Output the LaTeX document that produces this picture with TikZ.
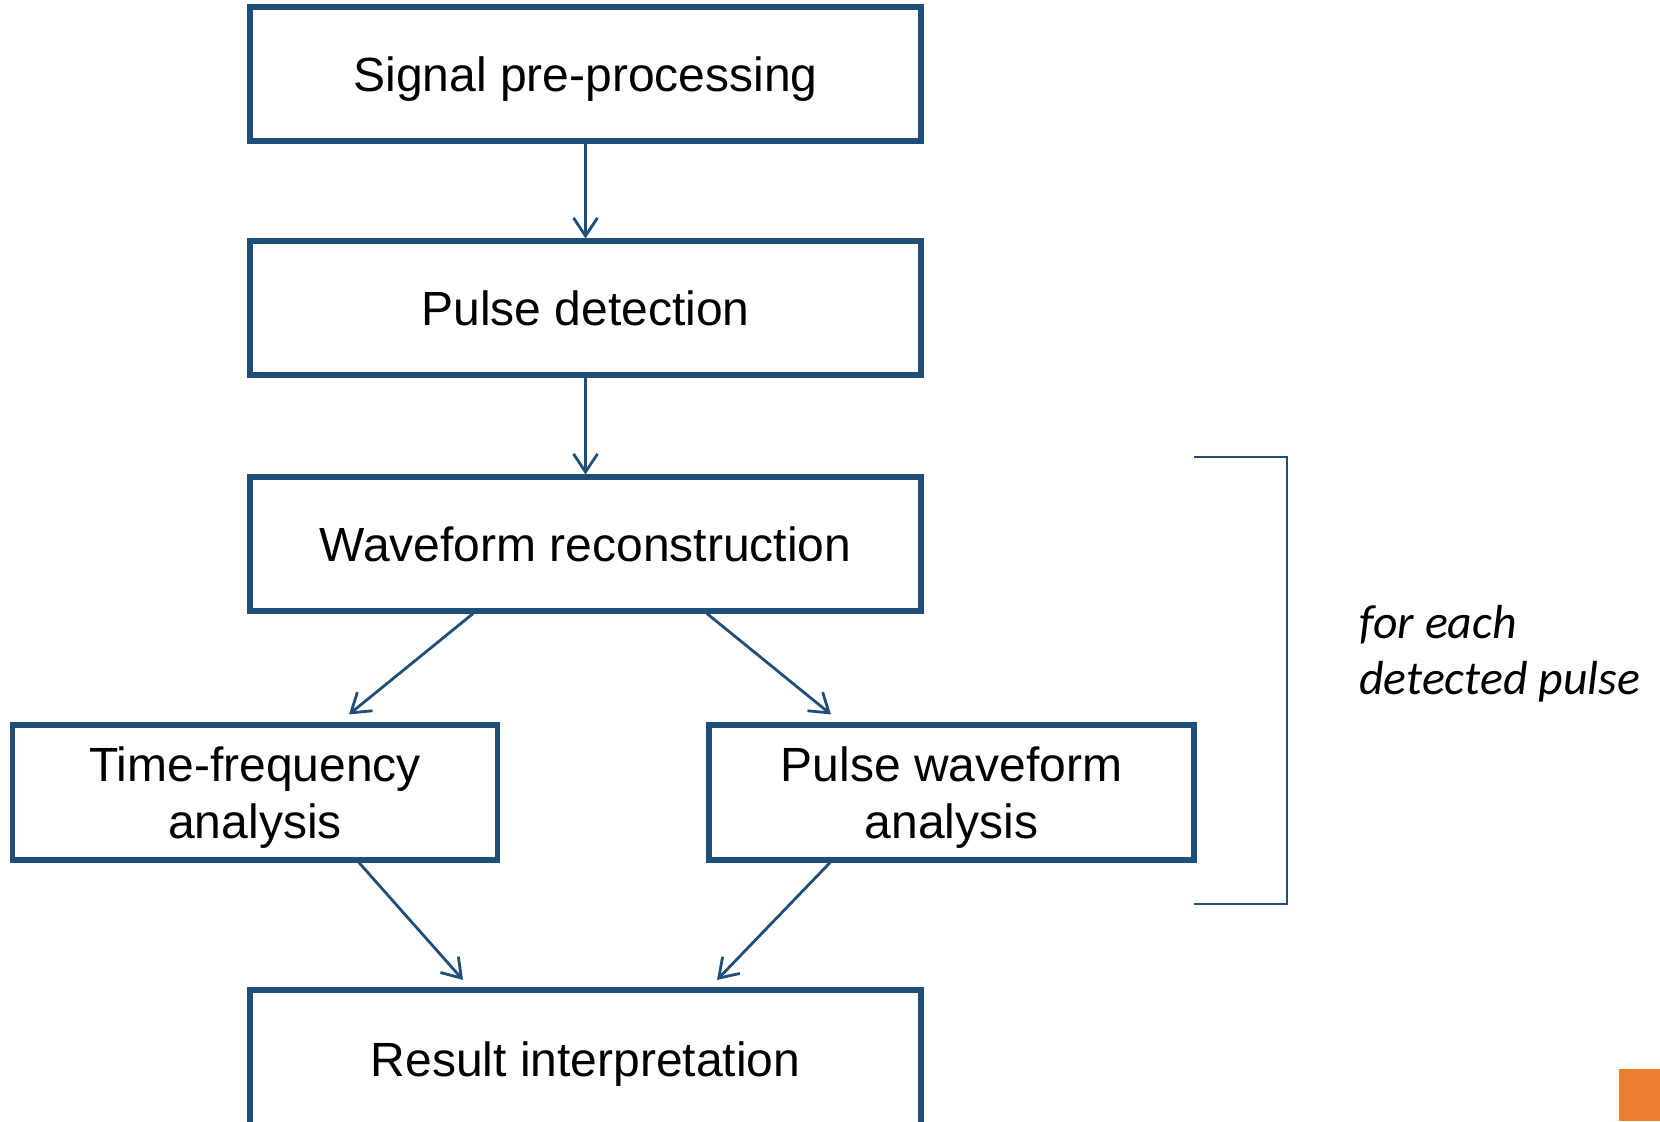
\documentclass[tikz,border=0pt]{standalone}
\usepackage{fontspec}
\setmainfont{Liberation Sans}
\newfontfamily\notefont{Carlito}
\usetikzlibrary{arrows.meta,calc}
\definecolor{boxblue}{RGB}{31,78,121}
\definecolor{accentorange}{RGB}{237,125,49}
\begin{document}
\begin{tikzpicture}[x=0.5pt,y=-0.5pt,
  stepbox/.style={draw=boxblue,line width=2.6pt,rectangle,inner sep=0pt,text depth=0pt,
    font=\fontsize{24}{28.5}\selectfont,align=center},
  flow/.style={draw=boxblue,line width=1.4pt,-{Straight Barb[length=9pt,width=12pt,line width=1.4pt]}},
  brk/.style={draw=boxblue,line width=1.4pt}]
\useasboundingbox (0,0) rectangle (1660,1121);
\node[stepbox,minimum width=335.5pt,minimum height=67pt] (sp) at (585.5,74) {Signal pre-processing};
\node[stepbox,minimum width=335.5pt,minimum height=67pt] (pd) at (585.5,308) {Pulse detection};
\node[stepbox,minimum width=335.5pt,minimum height=67pt] (wr) at (585.5,544) {Waveform reconstruction};
\node[stepbox,minimum width=242.5pt,minimum height=67.5pt] (tf) at (255,792.5) {Time-frequency\\analysis};
\node[stepbox,minimum width=242.5pt,minimum height=67.5pt] (pw) at (951.5,792.5) {Pulse waveform\\analysis};
\node[stepbox,minimum width=335.5pt,minimum height=69pt] (ri) at (585.5,1059) {Result interpretation};
\draw[flow] (sp.south) -- (pd.north);
\draw[flow] (pd.south) -- (wr.north);
\draw[flow] ([xshift=-56.25pt]wr.south) -- ([xshift=47pt,yshift=4pt]tf.north);
\draw[flow] ([xshift=60.75pt]wr.south) -- ([xshift=-60.25pt,yshift=4pt]pw.north);
\draw[flow] ([xshift=52pt]tf.south) -- ([xshift=-61.25pt,yshift=3.75pt]ri.north);
\draw[flow] ([xshift=-60.75pt]pw.south) -- ([xshift=65.75pt,yshift=3.75pt]ri.north);
\coordinate (b1) at (1194,457);
\coordinate (b2) at (1287,457);
\coordinate (b3) at (1287,904);
\coordinate (b4) at (1194,904);
\draw[brk] (b1) -- (b2) -- (b3) -- (b4);
\node[anchor=west,align=left,inner sep=0pt,font=\notefont\itshape\fontsize{23.9}{28}\selectfont] (note) at (1359,654) {for each\\detected pulse};
\fill[accentorange] (1619,1069) rectangle (1660,1121);
\end{tikzpicture}
\end{document}
